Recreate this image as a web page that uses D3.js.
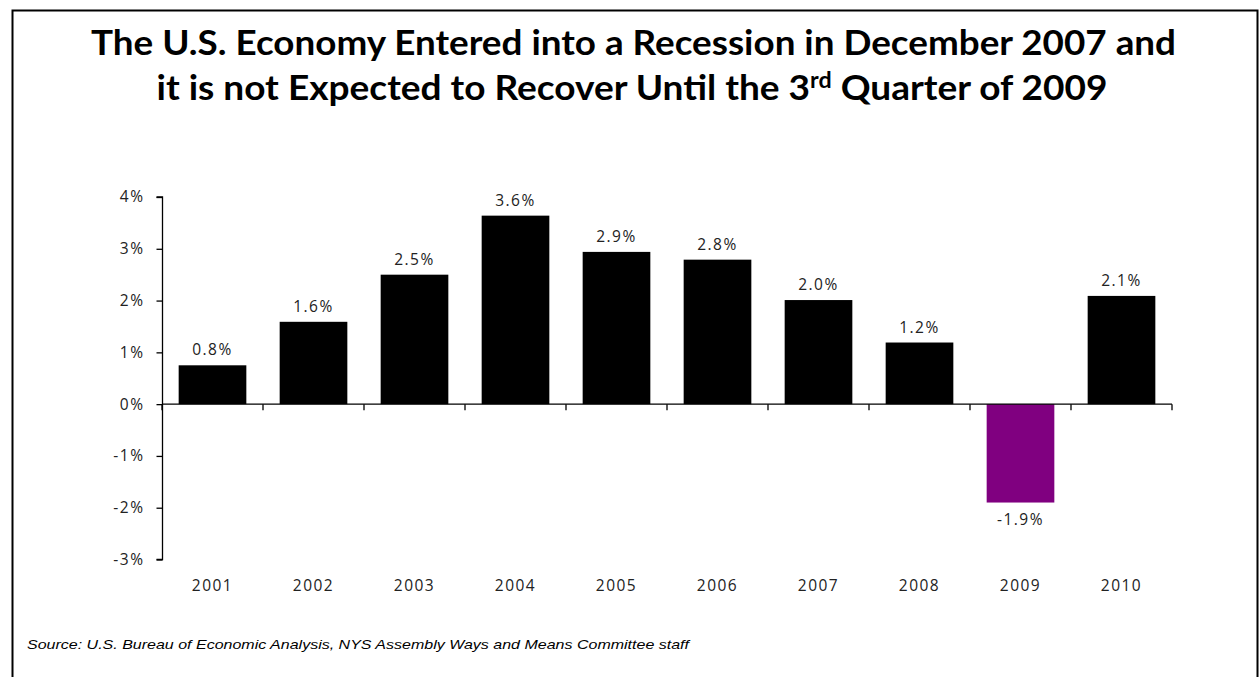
<!DOCTYPE html>
<html>
<head>
<meta charset="utf-8">
<script src="https://cdn.jsdelivr.net/npm/d3@7"></script>
<style>
  html, body { margin: 0; padding: 0; background: #fff; }
  svg { display: block; }
</style>
</head>
<body>
<svg id="chart" width="1259" height="677"></svg>
<script>
// Real GDP growth by year (percent)
const years = ["2001", "2002", "2003", "2004", "2005", "2006", "2007", "2008", "2009", "2010"];
const growth = [0.75, 1.59, 2.5, 3.64, 2.94, 2.79, 2.01, 1.19, -1.9, 2.09];
const yTicks = [-3, -2, -1, 0, 1, 2, 3, 4];
const titleLines = [
  "The U.S. Economy Entered into a Recession in December 2007 and",
  ["it is not Expected to Recover Until the 3", "rd", " Quarter of 2009"]
];
const sourceNote = "Source: U.S. Bureau of Economic Analysis, NYS Assembly Ways and Means Committee staff";

const svg = d3.select("#chart");

// frame
svg.append("rect")
  .attr("x", 12.5).attr("y", 10.5)
  .attr("width", 1245).attr("height", 700)
  .attr("fill", "none").attr("stroke", "#000").attr("stroke-width", 2);

const titleFont = "Lato, 'Open Sans', sans-serif";

// title line 1
svg.append("text")
  .attr("x", 633.5).attr("y", 54.5)
  .attr("text-anchor", "middle")
  .attr("font-family", titleFont).attr("font-weight", 700)
  .attr("font-size", 35).attr("fill", "#000")
  .attr("textLength", 1085).attr("lengthAdjust", "spacingAndGlyphs")
  .text(titleLines[0]);

// title line 2 with superscript ordinal
const t2 = svg.append("text")
  .attr("x", 632).attr("y", 100)
  .attr("text-anchor", "middle")
  .attr("font-family", titleFont).attr("font-weight", 700)
  .attr("font-size", 35).attr("fill", "#000");
t2.append("tspan").text(titleLines[1][0]);
t2.append("tspan").attr("font-size", 22).attr("dy", -12).text(titleLines[1][1]);
t2.append("tspan").attr("dy", 12).text(titleLines[1][2]);
t2.attr("textLength", 951).attr("lengthAdjust", "spacingAndGlyphs");

// scales
const x = d3.scaleBand().domain(years).range([162, 1172]).paddingInner(0.33).paddingOuter(0.165);
const y = d3.scaleLinear().domain([-3, 4]).range([559.5, 197]);

const labelFont = "'Open Sans', 'DejaVu Sans', sans-serif";
const labelSize = 15.5;
const fmt = v => d3.format(".1f")(v).replace("\u2212", "-") + "%";

const data = years.map((yr, i) => ({ yr, v: growth[i] }));

// bars
svg.append("g").selectAll("rect")
  .data(data)
  .join("rect")
  .attr("x", d => x(d.yr))
  .attr("width", x.bandwidth())
  .attr("y", d => y(Math.max(0, d.v)))
  .attr("height", d => Math.abs(y(d.v) - y(0)))
  .attr("fill", d => d.v < 0 ? "#800080" : "#000");

// value labels
svg.append("g").selectAll("text")
  .data(data)
  .join("text")
  .attr("x", d => x(d.yr) + x.bandwidth() / 2)
  .attr("y", d => d.v >= 0 ? y(d.v) - 10 : y(d.v) + 22)
  .attr("text-anchor", "middle")
  .attr("font-family", labelFont).attr("font-size", labelSize)
  .attr("letter-spacing", 1.5)
  .attr("fill", "#222")
  .text(d => fmt(d.v));

// y axis
const yAxis = d3.axisLeft(y).tickValues(yTicks).tickSize(6).tickPadding(12)
  .tickFormat(d => d + "%");
const gy = svg.append("g").attr("transform", "translate(162.5,0)").call(yAxis);
gy.select(".domain").attr("stroke", "#000").attr("stroke-width", 1.3)
  .attr("d", `M-6,${y(-3)}H0V${y(4)}H-6`);
gy.selectAll(".tick line").attr("stroke", "#000").attr("stroke-width", 1.3);
gy.selectAll(".tick text")
  .attr("font-family", labelFont).attr("font-size", labelSize)
  .attr("letter-spacing", 1.5).attr("fill", "#222");

// x axis along the zero line, ticks at category boundaries
const [x0, x1] = x.range();
const boundary = i => x0 + i * (x1 - x0) / years.length;
const gx = svg.append("g").attr("transform", `translate(0,${y(0)})`);
gx.append("path").attr("d", `M${x0},0H${x1}`)
  .attr("stroke", "#000").attr("stroke-width", 1.3).attr("fill", "none");
gx.append("g").selectAll("line")
  .data(d3.range(years.length + 1))
  .join("line")
  .attr("x1", boundary).attr("x2", boundary)
  .attr("y1", 0).attr("y2", 6)
  .attr("stroke", "#000").attr("stroke-width", 1.3);

// category labels below the plot
svg.append("g").selectAll("text")
  .data(years)
  .join("text")
  .attr("x", d => x(d) + x.bandwidth() / 2)
  .attr("y", 591)
  .attr("text-anchor", "middle")
  .attr("font-family", labelFont).attr("font-size", labelSize)
  .attr("letter-spacing", 1.5).attr("fill", "#222")
  .text(d => d);

// source note
svg.append("text")
  .attr("x", 27).attr("y", 649)
  .attr("font-family", "'Liberation Sans', Arial, sans-serif")
  .attr("font-style", "italic").attr("font-size", 13)
  .attr("fill", "#000")
  .attr("textLength", 662).attr("lengthAdjust", "spacingAndGlyphs")
  .text(sourceNote);
</script>
</body>
</html>
